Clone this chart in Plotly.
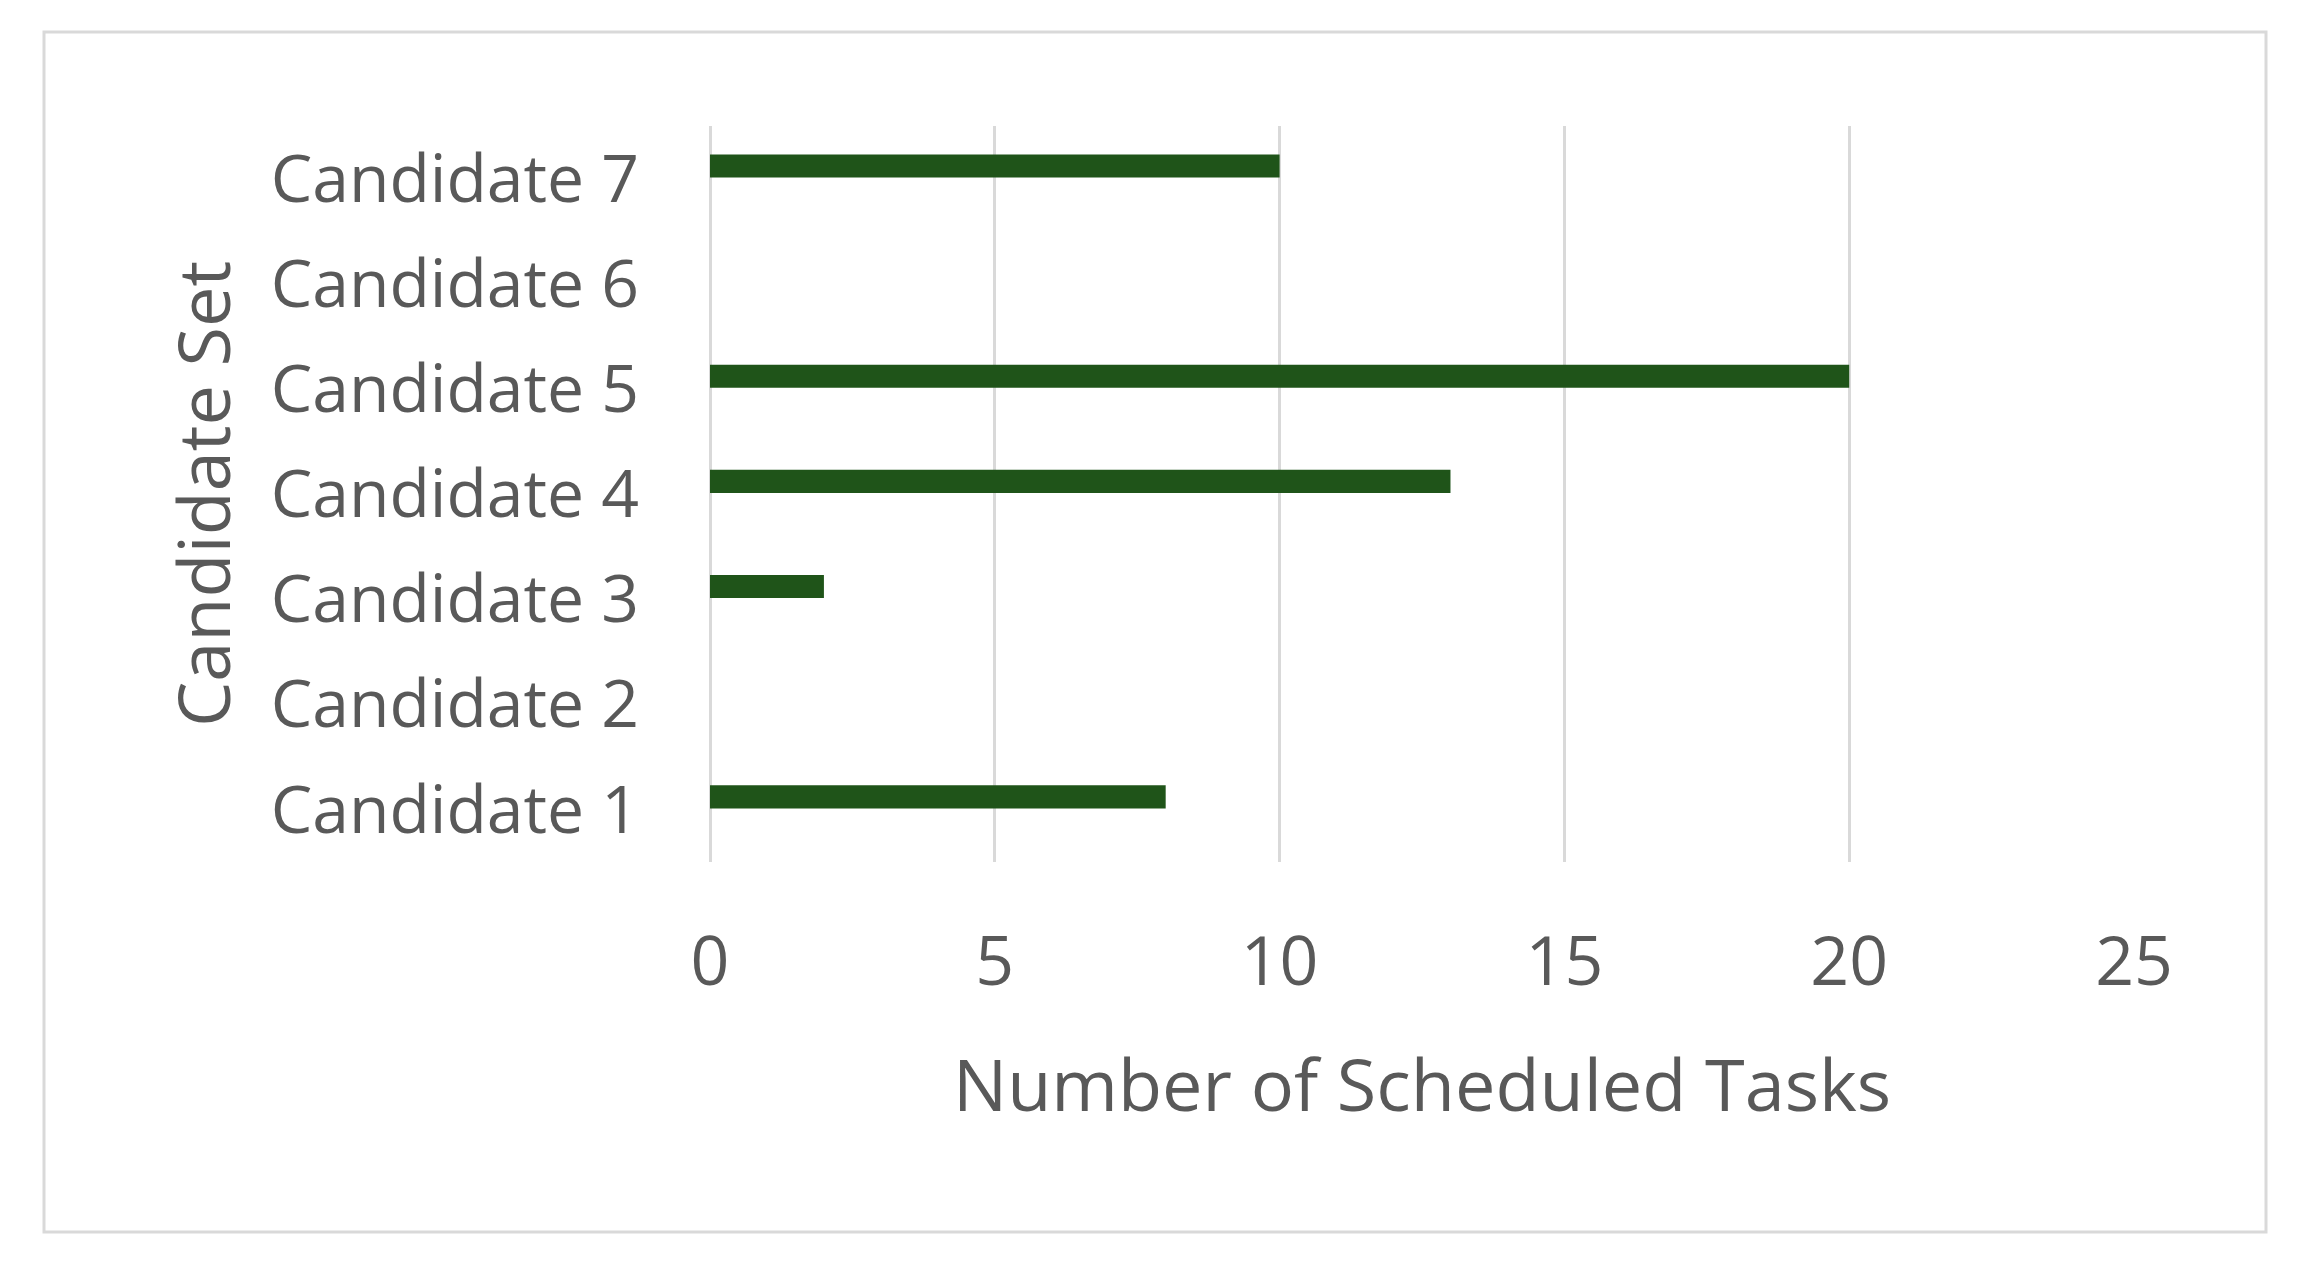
import plotly.graph_objects as go

# data
candidates = ["Candidate 1", "Candidate 2", "Candidate 3", "Candidate 4",
              "Candidate 5", "Candidate 6", "Candidate 7"]
scheduled_tasks = [8, 0, 2, 13, 20, 0, 10]
x_ticks = [0, 5, 10, 15, 20, 25]

W, H = 2300, 1275
# plot area in pixels of the reference picture
PL, PR, PT, PB = 710, 2134, 126, 862
OFF = 8  # browser body margin
FONT = "Open Sans"
TEXT = "#595959"
GRID = "#d9d9d9"


def px_x(p):
    return (p - PL) / (PR - PL)


def px_y(p):
    return (PB - p) / (PB - PT)


fig = go.Figure()
fig.add_trace(go.Bar(
    x=scheduled_tasks,
    y=candidates,
    orientation="h",
    marker_color="#1f5419",
    marker_line_width=0,
    width=0.22,
    offset=0.01,
    hoverinfo="x+y",
))

fig.update_layout(
    width=W,
    height=H,
    margin=dict(l=PL - OFF, r=W - PR + OFF, t=PT - OFF, b=H - PB + OFF,
                autoexpand=False),
    paper_bgcolor="white",
    plot_bgcolor="white",
    showlegend=False,
    font=dict(family=FONT, color=TEXT),
)

fig.update_xaxes(
    range=[0, 25],
    tickvals=x_ticks,
    showgrid=True,
    gridcolor=GRID,
    gridwidth=3,
    zeroline=True,
    zerolinecolor=GRID,
    zerolinewidth=3,
    showline=False,
    ticks="",
    tickfont=dict(size=68, color=TEXT, family=FONT),
    ticklabelstandoff=54,
    automargin=False,
)
fig.update_yaxes(
    categoryorder="array",
    categoryarray=candidates,
    showgrid=False,
    zeroline=False,
    showline=False,
    ticks="",
    tickfont=dict(size=66, color=TEXT, family=FONT),
    ticklabelstandoff=70,
    automargin=False,
)

# axis titles
fig.add_annotation(
    text="Number of Scheduled Tasks",
    xref="paper", yref="paper",
    x=0.5, y=px_y(1083),
    xanchor="center", yanchor="middle",
    showarrow=False,
    font=dict(size=72, color=TEXT, family=FONT),
)
fig.add_annotation(
    text="Candidate Set",
    xref="paper", yref="paper",
    x=px_x(202), y=px_y(494),
    xanchor="center", yanchor="middle",
    textangle=-90,
    showarrow=False,
    font=dict(size=72, color=TEXT, family=FONT),
)

# chart-area border
fig.add_shape(
    type="rect",
    xref="paper", yref="paper",
    x0=px_x(44), x1=px_x(2266), y0=px_y(1232), y1=px_y(32),
    line=dict(color=GRID, width=3),
    fillcolor="rgba(0,0,0,0)",
    layer="below",
)

fig.write_html("out.html")
